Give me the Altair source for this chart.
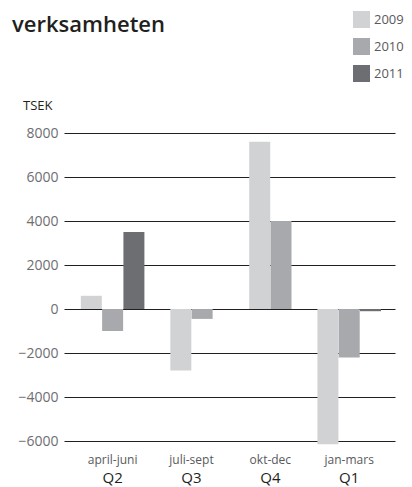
import altair as alt
import pandas as pd

# ---- data ----
quarters = ["april-juni", "juli-sept", "okt-dec", "jan-mars"]
quarter_codes = ["Q2", "Q3", "Q4", "Q1"]
years = ["2009", "2010", "2011"]
values_2009 = [600, -2800, 7600, -6150]
values_2010 = [-1000, -450, 4000, -2200]
values_2011 = [3500, None, None, -100]
y_ticks = [-6000, -4000, -2000, 0, 2000, 4000, 6000, 8000]
title_text = "verksamheten"
unit_text = "TSEK"
colors = ["#d1d2d4", "#a7a9ac", "#6d6e71"]

rows = []
for qi, q in enumerate(quarters):
    for yr, vals in zip(years, [values_2009, values_2010, values_2011]):
        if vals[qi] is not None:
            rows.append({"quarter": q, "qi": qi, "year": yr, "value": vals[qi]})
df = pd.DataFrame(rows)
labels_df = pd.DataFrame({"quarter": quarters, "code": quarter_codes, "qi": list(range(len(quarters)))})

FONT = "Open Sans"
xscale = alt.Scale(domain=[-0.553, 3.517], nice=False, zero=False)
yscale = alt.Scale(domain=[-6500, 8000], nice=False)

bars = (
    alt.Chart(df)
    .transform_window(slot="row_number()", groupby=["quarter"], sort=[{"field": "year"}])
    .transform_joinaggregate(n="count()", groupby=["quarter"])
    .transform_calculate(pos="datum.qi + (datum.slot - 1 - (datum.n - 1) / 2) * 0.27")
    .mark_bar(width=21)
    .encode(
        x=alt.X("pos:Q", scale=xscale, axis=None),
        y=alt.Y(
            "value:Q",
            scale=yscale,
            stack=None,
            axis=alt.Axis(
                values=y_ticks, format="d", grid=True, gridColor="#231f20", gridWidth=1.2,
                domain=False, ticks=False, labelPadding=6, labelColor="#6d6e71",
                labelFontSize=14, labelFont=FONT, title=None,
            ),
        ),
        color=alt.Color(
            "year:N",
            scale=alt.Scale(domain=years, range=colors),
            legend=alt.Legend(
                orient="none", legendX=289, legendY=-122, title=None,
                symbolType="square", symbolSize=289, symbolStrokeWidth=0,
                symbolOpacity=1, labelFontSize=13, labelFont=FONT, labelColor="#58595b",
                labelOffset=4, rowPadding=10, padding=0,
            ),
        ),
    )
)

month_labels = (
    alt.Chart(labels_df)
    .mark_text(baseline="alphabetic", fontSize=12, font=FONT, color="#58595b")
    .encode(x=alt.X("qi:Q", scale=xscale, axis=None), y=alt.value(331), text="quarter:N")
)
code_labels = (
    alt.Chart(labels_df)
    .mark_text(baseline="alphabetic", fontSize=15, font=FONT, color="#231f20")
    .encode(x=alt.X("qi:Q", scale=xscale, axis=None), y=alt.value(350), text="code:N")
)
title = (
    alt.Chart(pd.DataFrame({"t": [title_text]}))
    .mark_text(align="left", baseline="alphabetic", fontSize=22, fontWeight=600, font=FONT, color="#231f20")
    .encode(x=alt.value(-52), y=alt.value(-101), text="t:N")
)
unit = (
    alt.Chart(pd.DataFrame({"t": [unit_text]}))
    .mark_text(align="left", baseline="alphabetic", fontSize=13, font=FONT, color="#231f20")
    .encode(x=alt.value(-41), y=alt.value(-23), text="t:N")
)

chart = (
    alt.layer(bars, month_labels, code_labels, title, unit)
    .properties(
        width=331, height=319,
        padding={"left": 56, "top": 125, "right": 9, "bottom": 40},
        autosize=alt.AutoSizeParams(type="none"),
    )
    .configure_view(stroke=None)
)

chart.save("out.html", embed_options={"renderer": "svg", "actions": False})
